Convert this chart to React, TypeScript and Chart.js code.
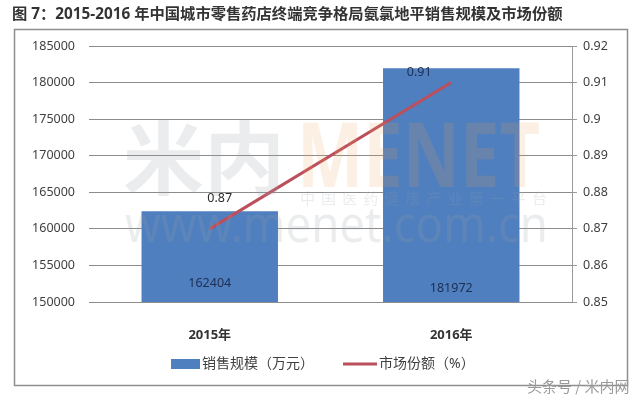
import { useEffect, useRef } from "react";
import { Chart, registerables } from "chart.js";

Chart.register(...registerables);

const titleText = "图 7：2015-2016 年中国城市零售药店终端竞争格局氨氯地平销售规模及市场份额";
const categories = ["2015年", "2016年"];
const salesValues = [162404, 181972];
const shareValues = [0.87, 0.91];
const seriesNames = ["销售规模（万元）", "市场份额（%）"];
const salesAxis = { min: 150000, max: 185000, step: 5000 };
const shareAxis = { min: 0.85, max: 0.92, step: 0.01 };
const cornerMark = "头条号 / 米内网";

const BAR_COLOR = "#4f7fbe";
const LINE_COLOR = "#bc4f5c";
const FONT = "'Noto Sans', 'Noto Sans CJK SC', sans-serif";
const CJK = "'Noto Sans CJK SC', 'Noto Sans', sans-serif";

function stretchText(ctx: CanvasRenderingContext2D, text: string, x: number, y: number, width: number, font: string, color: string, baseline: CanvasTextBaseline) {
  ctx.save();
  ctx.font = font;
  ctx.textBaseline = baseline;
  ctx.textAlign = "left";
  const w = ctx.measureText(text).width;
  ctx.translate(x, y);
  ctx.scale(width / w, 1);
  ctx.fillStyle = color;
  ctx.fillText(text, 0, 0);
  ctx.restore();
}

const overlay = {
  id: "overlay",
  beforeDraw(chart: any) {
    const ctx = chart.ctx as CanvasRenderingContext2D;
    ctx.save();
    ctx.fillStyle = "#ffffff";
    ctx.fillRect(0, 0, chart.width, chart.height);
    ctx.restore();
  },
  afterDatasetsDraw(chart: any) {
    const ctx = chart.ctx as CanvasRenderingContext2D;
    // faint watermark
    const gray = "rgba(150,158,170,0.2)";
    stretchText(ctx, "米内", 123, 158, 162, `bold 80px ${CJK}`, gray, "middle");
    stretchText(ctx, "MENET", 297, 187, 243, `bold 90px ${FONT}`, "rgba(235,160,90,0.16)", "alphabetic");
    const sub = "中国医药健康产业第一平台";
    ctx.save();
    ctx.font = `15px ${CJK}`;
    ctx.fillStyle = gray;
    ctx.textBaseline = "middle";
    ctx.textAlign = "left";
    const step = (247 - 15) / (sub.length - 1);
    for (let i = 0; i < sub.length; i++) ctx.fillText(sub[i], 300 + i * step, 198);
    ctx.restore();
    stretchText(ctx, "www.menet.com.cn", 125, 242, 423, `50px ${FONT}`, gray, "alphabetic");

    // data labels
    const yScale = chart.scales.y;
    const base = yScale.getPixelForValue(salesAxis.min);
    const barMeta = chart.getDatasetMeta(0);
    const barOffsets = [19, 14];
    ctx.save();
    ctx.font = `12.5px ${FONT}`;
    ctx.fillStyle = "#1d2f52";
    ctx.textAlign = "center";
    ctx.textBaseline = "middle";
    barMeta.data.forEach((el: any, i: number) => {
      ctx.fillText(String(salesValues[i]), el.x, base - barOffsets[i]);
    });
    const lineMeta = chart.getDatasetMeta(1);
    const lineOffsets = [
      [10, -30],
      [-32, -10],
    ];
    const lineColors = ["#2a2a2a", "#1d2f52"];
    lineMeta.data.forEach((el: any, i: number) => {
      ctx.fillStyle = lineColors[i];
      ctx.fillText(String(shareValues[i]), el.x + lineOffsets[i][0], el.y + lineOffsets[i][1]);
    });
    ctx.restore();
  },
  afterDraw(chart: any) {
    const ctx = chart.ctx as CanvasRenderingContext2D;
    ctx.save();
    // title
    ctx.font = `bold 15.3px ${FONT}`;
    ctx.fillStyle = "#333333";
    ctx.textBaseline = "middle";
    ctx.textAlign = "left";
    ctx.fillText(titleText, 12, 15);
    // frame
    ctx.strokeStyle = "#8e8e8e";
    ctx.lineWidth = 1.5;
    ctx.strokeRect(14.5, 29.5, 613, 356);
    // legend
    ctx.fillStyle = BAR_COLOR;
    ctx.fillRect(171, 359, 29, 10);
    ctx.font = `14px ${FONT}`;
    ctx.fillStyle = "#404040";
    ctx.fillText(seriesNames[0], 202, 364);
    ctx.strokeStyle = LINE_COLOR;
    ctx.lineWidth = 3;
    ctx.beginPath();
    ctx.moveTo(343, 364);
    ctx.lineTo(377, 364);
    ctx.stroke();
    ctx.fillStyle = "#404040";
    ctx.fillText(seriesNames[1], 379, 364);
    // corner mark
    ctx.font = `15px ${CJK}`;
    ctx.fillStyle = "#9a9a9a";
    ctx.fillText(cornerMark, 527, 386);
    ctx.restore();
  },
};

export default function App() {
  const ref = useRef<HTMLCanvasElement | null>(null);
  useEffect(() => {
    if (!ref.current) return;
    const tickFont = { family: FONT, size: 12.5 };
    const chart = new Chart(ref.current, {
      type: "bar",
      data: {
        labels: categories,
        datasets: [
          {
            type: "bar",
            label: seriesNames[0],
            data: salesValues,
            backgroundColor: BAR_COLOR,
            yAxisID: "y",
            barPercentage: 0.565,
            categoryPercentage: 1,
            order: 2,
          },
          {
            type: "line",
            label: seriesNames[1],
            data: shareValues,
            borderColor: LINE_COLOR,
            backgroundColor: LINE_COLOR,
            borderWidth: 3,
            pointRadius: 0,
            yAxisID: "y1",
            order: 1,
          },
        ] as any,
      },
      options: {
        responsive: false,
        animation: false,
        devicePixelRatio: 1,
        layout: { padding: { left: 12, right: 18, top: 46, bottom: 59 } },
        plugins: {
          legend: { display: false },
          title: { display: false },
          tooltip: { enabled: false },
        },
        scales: {
          x: {
            grid: { display: false },
            border: { display: false },
            ticks: { font: { family: FONT, size: 13, weight: "bold" }, color: "#333333", padding: 17 },
            afterFit: (s: any) => {
              s.height = 40;
            },
          },
          y: {
            position: "left",
            min: salesAxis.min,
            max: salesAxis.max,
            ticks: {
              stepSize: salesAxis.step,
              callback: (v: any) => String(v),
              font: tickFont,
              color: "#404040",
              padding: 14,
            },
            grid: { color: "#8c8c8c", drawTicks: false, lineWidth: 1 },
            border: { display: false },
            afterFit: (s: any) => {
              s.width = 77;
            },
          },
          y1: {
            position: "right",
            min: shareAxis.min,
            max: shareAxis.max,
            ticks: {
              stepSize: shareAxis.step,
              callback: (v: any) => String(Math.round(Number(v) * 100) / 100),
              font: tickFont,
              color: "#404040",
              padding: 6,
            },
            grid: { drawOnChartArea: false, drawTicks: true, tickLength: 5, color: "#9a9a9a" },
            border: { display: true, color: "#9a9a9a" },
            afterFit: (s: any) => {
              s.width = 50;
            },
          },
        } as any,
      },
      plugins: [overlay],
    });
    return () => chart.destroy();
  }, []);
  return (
    <div style={{ position: "absolute", left: 0, top: 0, width: 640, height: 401 }}>
      <canvas ref={ref} width={640} height={401} style={{ display: "block" }} />
    </div>
  );
}
